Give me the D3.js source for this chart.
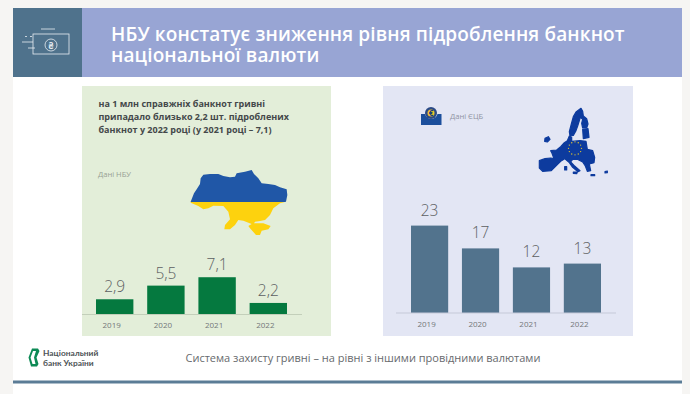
<!DOCTYPE html>
<html>
<head>
<meta charset="utf-8">
<script src="https://cdn.jsdelivr.net/npm/d3@7"></script>
<style>
    html, body { margin: 0; padding: 0; background: #f6f5f3; overflow: hidden; }
    svg { display: block; font-family: "Open Sans", Lato, sans-serif; }
</style>
</head>
<body>
<div id="chart"></div>
<script>
// Chart data
const years = ["2019", "2020", "2021", "2022"];
const nbuValues = [2.9, 5.5, 7.1, 2.2];
const ecbValues = [23, 17, 12, 13];
const nbuLabels = ["2,9", "5,5", "7,1", "2,2"];
const ecbLabels = ["23", "17", "12", "13"];

const titleLines = ["НБУ констатує зниження рівня підроблення банкнот", "національної валюти"];
const noteLines = [
    "на 1 млн справжніх банкнот гривні",
    "припадало близько 2,2 шт. підроблених",
    "банкнот у 2022 році (у 2021 році – 7,1)"
];

// Map outlines, traced by eye
const ukraineOutline = [[32,125],[42,100],[50,88],[60,72],[62,55],[70,44],[90,42],[115,42],[130,48],[150,52],[165,50],[170,40],[195,35],[215,30],[222,42],[235,55],[245,70],[265,72],[285,75],[300,82],[320,88],[322,105],[318,125],[300,130],[280,145],[270,165],[255,180],[240,183],[225,185],[222,190],[250,190],[272,198],[265,208],[245,212],[240,225],[228,225],[210,205],[205,198],[215,192],[190,182],[175,180],[165,195],[150,208],[133,208],[135,195],[150,178],[145,155],[130,138],[100,137],[85,145],[70,148],[55,138],[32,128]];
const euMainland = [[28,182],[45,176],[62,174],[72,176],[66,160],[62,152],[80,150],[92,140],[103,128],[112,122],[118,108],[125,112],[125,124],[150,122],[168,124],[172,148],[188,152],[194,172],[192,188],[178,192],[182,212],[172,214],[166,198],[158,186],[142,178],[128,178],[122,186],[132,196],[150,212],[144,215],[128,202],[118,188],[104,176],[92,184],[82,194],[64,212],[38,214],[28,204]];
const euNorth = [[153,25],[158,34],[160,48],[170,56],[174,72],[170,84],[158,84],[155,70],[158,58],[151,52],[148,62],[143,78],[138,92],[130,106],[120,108],[118,95],[124,72],[130,50],[138,36]];
const euBaltic = [[158,88],[174,86],[177,112],[160,116]];
const euIreland = [[45,115],[55,110],[60,118],[52,126],[44,124]];
const euIslands = [[[104,200],[110,200],[110,210],[104,210]], [[130,216],[142,216],[140,221],[130,220]], [[183,224],[194,224],[194,227],[183,227]], [[225,215],[232,213],[232,218],[225,219]]];

const width = 690, height = 394;

const svg = d3.select("#chart")
    .append("svg")
    .attr("width", width)
    .attr("height", height);

// Page background and header
svg.append("rect").attr("x", 13).attr("y", 8).attr("width", 669).attr("height", 386).attr("fill", "#ffffff");
svg.append("rect").attr("x", 13).attr("y", 8).attr("width", 69).attr("height", 69).attr("fill", "#4f728c");
svg.append("rect").attr("x", 82).attr("y", 8).attr("width", 600).attr("height", 69).attr("fill", "#98a5d4");
svg.append("rect").attr("x", 13).attr("y", 380.5).attr("width", 669).attr("height", 3).attr("fill", "#5b7c96");

// Title
svg.selectAll(".title")
    .data(titleLines)
    .join("text")
    .attr("class", "title")
    .attr("x", 111)
    .attr("y", (d, i) => 41 + i * 20.5)
    .attr("fill", "#ffffff")
    .attr("font-size", 19)
    .attr("font-weight", 600)
    .attr("letter-spacing", 0.13)
    .text(d => d);

// Banknote icon in the header
const icon = svg.append("g").attr("fill", "none").attr("stroke", "#e8edf2").attr("stroke-width", 0.8);
icon.append("rect").attr("x", 33).attr("y", 34).attr("width", 36).attr("height", 20);
icon.append("circle").attr("cx", 51).attr("cy", 45).attr("r", 6);
icon.append("line").attr("x1", 22).attr("x2", 33).attr("y1", 42).attr("y2", 42);
icon.append("line").attr("x1", 28).attr("x2", 35).attr("y1", 48).attr("y2", 48);
icon.append("line").attr("x1", 41).attr("x2", 55).attr("y1", 29).attr("y2", 29);
icon.append("line").attr("x1", 25).attr("x2", 33).attr("y1", 36.5).attr("y2", 36.5).attr("stroke-dasharray", "2 3");
svg.append("text").attr("x", 51).attr("y", 48.5).attr("text-anchor", "middle")
    .attr("font-size", 9).attr("font-weight", 700).attr("fill", "#e8edf2").text("₴");

// Panels
svg.append("rect").attr("x", 82).attr("y", 86).attr("width", 249).attr("height", 250).attr("fill", "#e3eed9");
svg.append("rect").attr("x", 383).attr("y", 86).attr("width", 250).attr("height", 250).attr("fill", "#e3e6f4");

// Draws one bar panel from its own scales and axis
function drawBars(opts) {
    const x = d3.scaleBand()
        .domain(years)
        .range(opts.xRange)
        .paddingInner(0.27);

    const y = d3.scaleLinear()
        .domain([0, opts.maxValue])
        .range([opts.baseline, opts.baseline - opts.maxValue * opts.pxPerUnit]);

    const g = svg.append("g");

    g.selectAll("rect")
        .data(opts.values)
        .join("rect")
        .attr("x", (d, i) => x(years[i]))
        .attr("y", d => y(d))
        .attr("width", x.bandwidth())
        .attr("height", d => y(0) - y(d))
        .attr("fill", opts.color);

    g.selectAll(".value")
        .data(opts.values)
        .join("text")
        .attr("class", "value")
        .attr("x", (d, i) => x(years[i]) + x.bandwidth() / 2)
        .attr("y", d => y(d) - opts.labelGap)
        .attr("text-anchor", "middle")
        .attr("font-size", 15.5)
        .attr("font-weight", 300)
        .attr("fill", "#5c5f62")
        .text((d, i) => opts.labels[i]);

    // X-axis
    const axis = g.append("g")
        .attr("transform", `translate(0, ${opts.baseline})`)
        .call(d3.axisBottom(x).tickSize(0).tickPadding(8));
    axis.select(".domain").remove();
    axis.selectAll("text")
        .attr("dx", -3)
        .attr("font-family", "'Open Sans', sans-serif")
        .attr("font-size", 8)
        .attr("fill", "#73777a");

    g.append("line")
        .attr("x1", opts.lineRange[0])
        .attr("x2", opts.lineRange[1])
        .attr("y1", opts.baseline)
        .attr("y2", opts.baseline)
        .attr("stroke", opts.lineColor);
}

drawBars({
    values: nbuValues,
    labels: nbuLabels,
    xRange: [96, 287],
    lineRange: [82, 302],
    baseline: 314.5,
    maxValue: 8,
    pxPerUnit: 5.25,
    labelGap: 7,
    color: "#05793f",
    lineColor: "#c3cfba"
});

drawBars({
    values: ecbValues,
    labels: ecbLabels,
    xRange: [411, 601],
    lineRange: [396, 616],
    baseline: 313,
    maxValue: 25,
    pxPerUnit: 3.8,
    labelGap: 10,
    color: "#52738d",
    lineColor: "#c5c9d8"
});

// Panel notes
svg.selectAll(".note")
    .data(noteLines)
    .join("text")
    .attr("class", "note")
    .attr("x", 98.5)
    .attr("y", (d, i) => 107 + i * 13)
    .attr("font-size", 9)
    .attr("font-weight", 700)
    .attr("fill", "#44484a")
    .text(d => d);

svg.append("text").attr("x", 98).attr("y", 177).attr("font-size", 7.6).attr("fill", "#97a094").text("Дані НБУ");
svg.append("text").attr("x", 450).attr("y", 119).attr("font-size", 7.6).attr("fill", "#8f93a3").text("Дані ЄЦБ");

// Ukraine map: blue above the line, yellow below
const ukX = d3.scaleLinear().domain([0, 330]).range([180, 290]);
const ukY = d3.scaleLinear().domain([0, 255]).range([160, 245]);
const ukLine = d3.line().x(d => ukX(d[0])).y(d => ukY(d[1]));
const defs = svg.append("defs");
defs.append("clipPath").attr("id", "uk-top").append("rect")
    .attr("x", 180).attr("y", 160).attr("width", 110).attr("height", ukY(126) - 160);
defs.append("clipPath").attr("id", "uk-bottom").append("rect")
    .attr("x", 180).attr("y", ukY(126)).attr("width", 110).attr("height", 245 - ukY(126));
svg.append("path").attr("d", ukLine(ukraineOutline) + "Z").attr("fill", "#2057a7").attr("clip-path", "url(#uk-top)");
svg.append("path").attr("d", ukLine(ukraineOutline) + "Z").attr("fill", "#fdd20e").attr("clip-path", "url(#uk-bottom)");

// EU map
const euX = d3.scaleLinear().domain([0, 270]).range([530, 620]);
const euY = d3.scaleLinear().domain([0, 270]).range([100, 190]);
const euLine = d3.line().x(d => euX(d[0])).y(d => euY(d[1]));
svg.selectAll(".eu")
    .data([euMainland, euNorth, euBaltic, euIreland, ...euIslands])
    .join("path")
    .attr("class", "eu")
    .attr("d", d => euLine(d) + "Z")
    .attr("fill", "#0d3b9e")
    .attr("stroke", "#0d3b9e")
    .attr("stroke-width", 1.2)
    .attr("stroke-linejoin", "round");
svg.selectAll(".star")
    .data(d3.range(12))
    .join("circle")
    .attr("class", "star")
    .attr("cx", d => euX(135) + 6.5 * Math.cos(d * Math.PI / 6))
    .attr("cy", d => euY(145) + 6.5 * Math.sin(d * Math.PI / 6))
    .attr("r", 0.7)
    .attr("fill", "#e5c72e");

// ECB logo
svg.append("path")
    .attr("d", "M421 114 H425 A6.5 6.5 0 0 0 437.5 114 H441.5 V125 H421 Z")
    .attr("fill", "#1c4f9c");
svg.append("circle").attr("cx", 431).attr("cy", 113).attr("r", 6).attr("fill", "#2b4a86");
svg.append("circle").attr("cx", 431).attr("cy", 113).attr("r", 3.5).attr("fill", "#f0c62e");
svg.append("text").attr("x", 431).attr("y", 116).attr("text-anchor", "middle")
    .attr("font-size", 8).attr("font-weight", 700).attr("fill", "#1c3f7c").text("€");

// NBU logo and footer
svg.append("path")
    .attr("d", "M32 348.5 H38 L39.5 351 L36.5 357.5 L38.5 364 L37 366.5 H31 L28.5 357.5 Z")
    .attr("fill", "#0d8a55");
svg.append("path")
    .attr("d", "M33 351 H36 L34 357.5 L35.5 364 H32.5 L30.5 357.5 Z")
    .attr("fill", "#ffffff");
svg.selectAll(".logo")
    .data(["Національний", "банк України"])
    .join("text")
    .attr("class", "logo")
    .attr("x", 43)
    .attr("y", (d, i) => 355.5 + i * 10)
    .attr("font-family", "Lato, sans-serif")
    .attr("font-size", 8.4)
    .attr("font-weight", 700)
    .attr("fill", "#4d5356")
    .text(d => d);

svg.append("text")
    .attr("x", 185.5)
    .attr("y", 362)
    .attr("font-size", 11)
    .attr("fill", "#676a6d")
    .text("Система захисту гривні – на рівні з іншими провідними валютами");
</script>
</body>
</html>
